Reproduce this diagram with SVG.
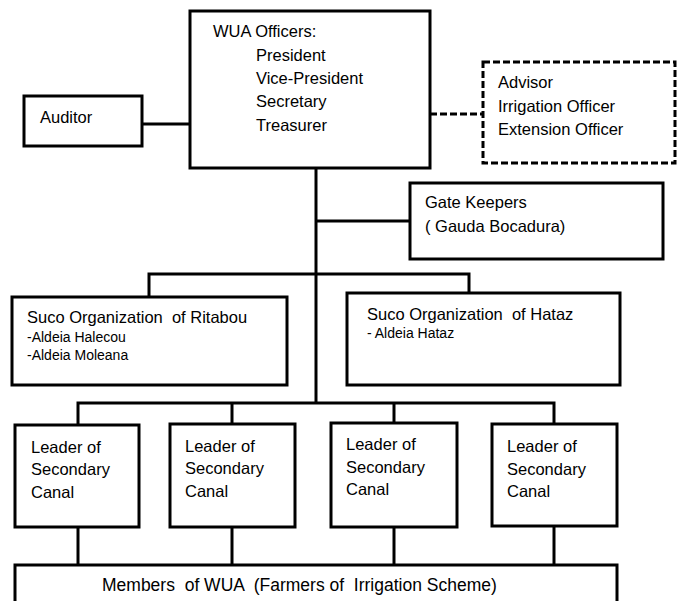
<svg xmlns="http://www.w3.org/2000/svg" width="680" height="601" viewBox="0 0 680 601">
  <style>
    .box { fill: #ffffff; stroke: #000000; stroke-width: 3; }
    .dash { fill: #ffffff; stroke: #000000; stroke-width: 3; stroke-dasharray: 7 3; }
    .line { fill: none; stroke: #000000; stroke-width: 3; }
    .dline { fill: none; stroke: #000000; stroke-width: 3; stroke-dasharray: 7 3; }
    text { font-family: "Liberation Sans", Arial, sans-serif; font-size: 16.5px; fill: #000000; }
    .small { font-size: 14px; }
  </style>
  <rect width="680" height="601" fill="#ffffff"/>

  <g id="connectors">
    <line class="line" x1="142" y1="124" x2="190" y2="124"/>
    <line class="dline" x1="430" y1="114" x2="483" y2="114"/>
    <line class="line" x1="316" y1="168" x2="316" y2="403"/>
    <line class="line" x1="316" y1="221" x2="410" y2="221"/>
    <polyline class="line" points="149,297 149,274 469,274 469,293"/>
    <polyline class="line" points="78,425 78,403 554,403 554,424"/>
    <line class="line" x1="232" y1="403" x2="232" y2="425"/>
    <line class="line" x1="394" y1="403" x2="394" y2="423"/>
    <line class="line" x1="78" y1="527" x2="78" y2="565"/>
    <line class="line" x1="232" y1="527" x2="232" y2="565"/>
    <line class="line" x1="394" y1="527" x2="394" y2="565"/>
    <line class="line" x1="554" y1="526" x2="554" y2="565"/>
  </g>

  <g id="officers">
    <rect class="box" x="190" y="11" width="240" height="157"/>
    <text x="213" y="37">WUA Officers:</text>
    <text x="256" y="61">President</text>
    <text x="256" y="84">Vice-President</text>
    <text x="256" y="107">Secretary</text>
    <text x="256" y="131">Treasurer</text>
  </g>

  <g id="auditor">
    <rect class="box" x="24" y="96" width="118" height="50"/>
    <text x="40" y="123">Auditor</text>
  </g>

  <g id="advisors">
    <rect class="dash" x="483" y="62" width="192" height="101"/>
    <text x="498" y="88">Advisor</text>
    <text x="498" y="112">Irrigation Officer</text>
    <text x="498" y="135">Extension Officer</text>
  </g>

  <g id="gate-keepers">
    <rect class="box" x="410" y="183" width="253" height="76"/>
    <text x="425" y="208">Gate Keepers</text>
    <text x="425" y="232">( Gauda Bocadura)</text>
  </g>

  <g id="suco-ritabou">
    <rect class="box" x="12" y="297" width="275" height="88"/>
    <text x="27" y="323" style="white-space: pre">Suco Organization  of Ritabou</text>
    <text class="small" x="27" y="342">-Aldeia Halecou</text>
    <text class="small" x="27" y="360">-Aldeia Moleana</text>
  </g>

  <g id="suco-hataz">
    <rect class="box" x="347" y="293" width="273" height="92"/>
    <text x="367" y="320" style="white-space: pre">Suco Organization  of Hataz</text>
    <text class="small" x="367" y="338">- Aldeia Hataz</text>
  </g>

  <g id="leader-1">
    <rect class="box" x="15" y="425" width="124" height="102"/>
    <text x="31" y="453">Leader of</text>
    <text x="31" y="475">Secondary</text>
    <text x="31" y="498">Canal</text>
  </g>

  <g id="leader-2">
    <rect class="box" x="170" y="424" width="125" height="103"/>
    <text x="185" y="452">Leader of</text>
    <text x="185" y="474">Secondary</text>
    <text x="185" y="497">Canal</text>
  </g>

  <g id="leader-3">
    <rect class="box" x="331" y="423" width="126" height="104"/>
    <text x="346" y="450">Leader of</text>
    <text x="346" y="473">Secondary</text>
    <text x="346" y="495">Canal</text>
  </g>

  <g id="leader-4">
    <rect class="box" x="492" y="424" width="125" height="102"/>
    <text x="507" y="452">Leader of</text>
    <text x="507" y="475">Secondary</text>
    <text x="507" y="497">Canal</text>
  </g>

  <g id="members">
    <rect class="box" x="15" y="565" width="602" height="50"/>
    <text x="102" y="591" style="white-space: pre; font-size: 17.5px">Members  of WUA  (Farmers of  Irrigation Scheme)</text>
  </g>
</svg>
